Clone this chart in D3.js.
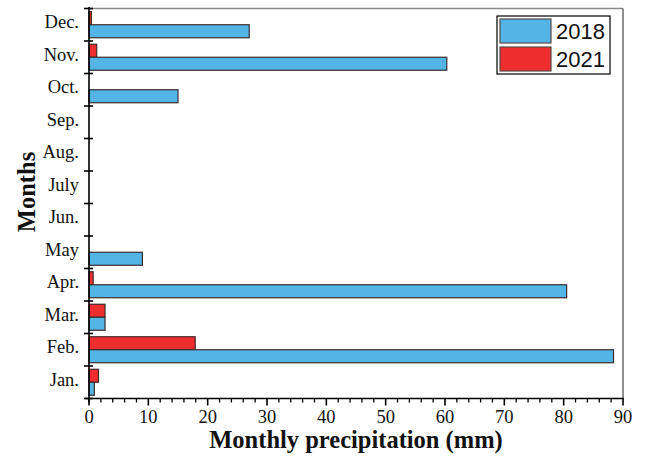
<!DOCTYPE html>
<html>
<head>
<meta charset="utf-8">
<script src="https://cdn.jsdelivr.net/npm/d3@7"></script>
<style>
  html, body { margin: 0; padding: 0; background: #fff; }
  svg { display: block; }
</style>
</head>
<body>
<svg id="chart" width="647" height="457"></svg>
<script>
// Month categories, bottom to top on the y axis
const months = ["Jan.", "Feb.", "Mar.", "Apr.", "May", "Jun.", "July", "Aug.", "Sep.", "Oct.", "Nov.", "Dec."];
// Monthly precipitation (mm)
const precip2018 = [0.9, 88.4, 2.7, 80.5, 9.0, 0, 0, 0, 0, 15.0, 60.3, 27.0];
const precip2021 = [1.6, 17.9, 2.7, 0.7, 0, 0, 0, 0, 0, 0, 1.3, 0.4];
const seriesNames = ["2021", "2018"];   // top-to-bottom order within each month
const legendNames = ["2018", "2021"];
const xTickValues = [0, 10, 20, 30, 40, 50, 60, 70, 80, 90];

const colors = { "2018": "#52b5e6", "2021": "#ee2d2f" };
const barStroke = "#3d2b2b";

const svg = d3.select("#chart");
const plotLeft = 89, plotRight = 623, plotTop = 8.5, plotBottom = 398.5;

const x = d3.scaleLinear().domain([0, 90]).range([plotLeft, plotRight]);
const y = d3.scaleBand().domain(months).range([plotBottom, plotTop]).padding(0);
const ySub = d3.scaleBand().domain(seriesNames).range([0, y.bandwidth()]).paddingInner(0).paddingOuter(0.25);

const rows = months.map((m, i) => ({ month: m, "2018": precip2018[i], "2021": precip2021[i] }));

// frame: top and right edges
svg.append("line").attr("x1", plotLeft).attr("x2", plotRight).attr("y1", plotTop).attr("y2", plotTop)
  .attr("stroke", "#8a8a8a").attr("stroke-width", 1.5);
svg.append("line").attr("x1", plotRight).attr("x2", plotRight).attr("y1", plotTop).attr("y2", plotBottom)
  .attr("stroke", "#6a6a6a").attr("stroke-width", 1.5);

// bars
const groups = svg.append("g").selectAll("g").data(rows).join("g")
  .attr("transform", d => `translate(0,${y(d.month)})`);
groups.selectAll("rect")
  .data(d => seriesNames.map(s => ({ key: s, value: d[s] })).filter(e => e.value > 0))
  .join("rect")
  .attr("x", x(0))
  .attr("y", e => ySub(e.key))
  .attr("width", e => x(e.value) - x(0))
  .attr("height", ySub.bandwidth())
  .attr("fill", e => colors[e.key])
  .attr("stroke", barStroke)
  .attr("stroke-width", 1.2);

// x axis
const xAxis = svg.append("g").attr("transform", `translate(0,${plotBottom})`);
xAxis.append("line").attr("x1", plotLeft - 4).attr("x2", plotRight + 1).attr("y1", 0).attr("y2", 0)
  .attr("stroke", "#000").attr("stroke-width", 1.6);
const minorTicks = d3.range(0, 91, 2).filter(v => v % 10 !== 0);
xAxis.selectAll(".minor").data(minorTicks).join("line")
  .attr("x1", d => x(d)).attr("x2", d => x(d)).attr("y1", 0).attr("y2", 4)
  .attr("stroke", "#000").attr("stroke-width", 1.3);
xAxis.selectAll(".major").data(xTickValues).join("line")
  .attr("x1", d => x(d)).attr("x2", d => x(d)).attr("y1", 0).attr("y2", 7)
  .attr("stroke", "#000").attr("stroke-width", 1.6);
xAxis.selectAll("text").data(xTickValues).join("text")
  .attr("x", d => x(d)).attr("y", 24)
  .attr("text-anchor", "middle")
  .attr("font-family", "'Liberation Serif', 'Times New Roman', serif")
  .attr("font-size", 18.5).attr("fill", "#111")
  .text(d => d);

// y axis
const yAxis = svg.append("g");
yAxis.append("line").attr("x1", plotLeft).attr("x2", plotLeft).attr("y1", plotTop - 1.5).attr("y2", plotBottom + 4)
  .attr("stroke", "#000").attr("stroke-width", 1.6);
const edges = months.map(m => y(m)).concat([plotBottom]);
yAxis.selectAll(".tick").data(edges).join("line")
  .attr("x1", plotLeft - 5).attr("x2", plotLeft + 4).attr("y1", d => d).attr("y2", d => d)
  .attr("stroke", "#000").attr("stroke-width", 1.6);
yAxis.selectAll("text").data(months).join("text")
  .attr("x", 79).attr("y", m => y(m) + y.bandwidth() / 2 - 3)
  .attr("dy", "0.35em")
  .attr("text-anchor", "end")
  .attr("font-family", "'Liberation Serif', 'Times New Roman', serif")
  .attr("font-size", 18.5).attr("fill", "#111")
  .text(m => m);

// axis titles
svg.append("text")
  .attr("x", 356).attr("y", 448)
  .attr("text-anchor", "middle")
  .attr("font-family", "'Liberation Serif', 'Times New Roman', serif")
  .attr("font-weight", "bold").attr("font-size", 24.5).attr("fill", "#111")
  .text("Monthly precipitation (mm)");
svg.append("text")
  .attr("transform", "translate(35,192) rotate(-90)")
  .attr("text-anchor", "middle")
  .attr("font-family", "'Liberation Serif', 'Times New Roman', serif")
  .attr("font-weight", "bold").attr("font-size", 24.5).attr("fill", "#111")
  .text("Months");

// legend
const legend = svg.append("g");
legend.append("rect").attr("x", 497).attr("y", 16).attr("width", 113).attr("height", 58)
  .attr("fill", "#fff").attr("stroke", "#000").attr("stroke-width", 1.2);
const li = legend.selectAll("g").data(legendNames).join("g")
  .attr("transform", (d, i) => `translate(500,${19 + i * 28})`);
li.append("rect").attr("width", 51).attr("height", 24)
  .attr("fill", d => colors[d]).attr("stroke", "#5a4a4a").attr("stroke-width", 1.2);
li.append("text").attr("x", 56).attr("y", 12).attr("dy", "0.36em")
  .attr("font-family", "'Liberation Sans', Arial, sans-serif")
  .attr("font-size", 22).attr("fill", "#111")
  .text(d => d);
</script>
</body>
</html>
